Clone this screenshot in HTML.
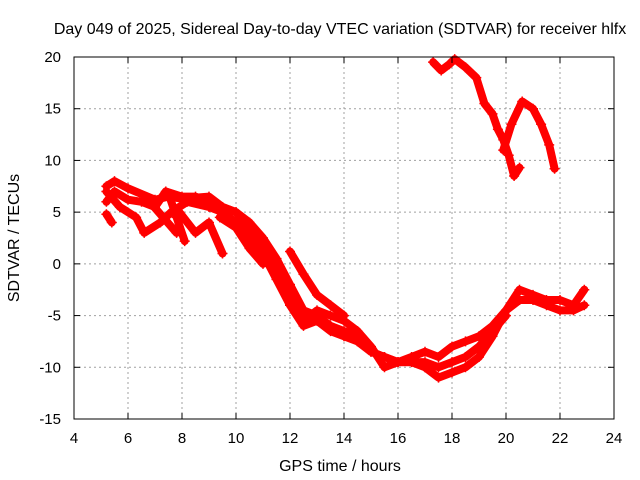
<!DOCTYPE html>
<html><head><meta charset="utf-8"><style>
body{margin:0;background:#fff}
svg{display:block;font-family:"Liberation Sans",sans-serif;font-size:14px}
</style></head><body>
<svg id="c" width="640" height="480">
<text x="340" y="34" text-anchor="middle" font-size="16">Day 049 of 2025, Sidereal Day-to-day VTEC variation (SDTVAR) for receiver hlfx</text>
<text x="340" y="471" text-anchor="middle" font-size="16">GPS time / hours</text>
<text transform="translate(19,238) rotate(-90)" text-anchor="middle" font-size="16">SDTVAR / TECUs</text>
<g id="grid"></g><g id="marks"></g><g id="axes"></g>
</svg>
<script>
const xTicks=[4,6,8,10,12,14,16,18,20,22,24];
const yTicks=[-15,-10,-5,0,5,10,15,20];
const track1=[[5.2,7.5],[5.5,8.0],[6,7.3],[7,6.2],[7.5,6.5],[8,6.3],[9,6.5],[9.5,5.5],[10,5],[10.5,4],[11,2.5],[11.5,0.5],[12,-2],[12.5,-4.5],[13,-5],[13.5,-6],[14,-6.5],[14.5,-7],[15,-8.5],[15.5,-9],[16,-9.5],[16.5,-9],[17,-8.5],[17.5,-9],[18,-8],[18.5,-7.5],[19,-7],[19.5,-6],[20,-4.5],[20.5,-2.5],[21,-3],[21.5,-3.5],[22,-3.5],[22.5,-4],[22.9,-2.5]];
const track2=[[5.2,6],[5.5,7],[6,6.2],[6.5,6],[7,5.5],[7.4,7],[8,6.5],[8.5,6.5],[9,6],[10,5],[10.5,3.5],[11,2],[11.5,0],[12,-3],[12.5,-5.5],[13,-4.5],[13.5,-5],[14,-5.5],[14.5,-6.5],[15,-8],[15.5,-10],[16,-9.5],[16.5,-9.5],[17,-10],[17.5,-11],[18,-10.5],[18.5,-10],[19,-9],[19.5,-7],[20,-4.5],[20.5,-3.5],[21,-3.5],[21.5,-4],[22,-4.5],[22.5,-4.5],[22.9,-4]];
const track3=[[5.2,7],[5.7,5.5],[6.3,4.5],[6.6,3],[7.2,4],[7.6,5],[8.2,6],[9,5.5],[9.5,5],[10,4],[10.5,2.5],[11,1],[11.5,-1.5],[12,-4],[12.5,-6],[13,-5.5],[13.5,-6.5],[14,-7],[14.5,-7.5],[15,-8.5],[15.5,-9],[16,-9.5],[17,-9.5],[17.5,-10],[18,-9.5],[18.5,-9],[19,-8],[19.5,-6.5],[20,-5]];
const track4=[[5.2,4.8],[5.4,4]];
const track5=[[7.5,6.8],[7.8,4.5],[8.1,2.2]];
const track6=[[6.8,6],[7.8,3]];
const track7=[[7.9,5],[8.5,3],[9,4],[9.5,1]];
const track8=[[9.4,4.5],[10,3.5],[10.5,1.5],[11,0]];
const track9=[[12,1.2],[12.5,-1],[13,-3],[13.5,-4],[14,-5]];
const track10=[[17.3,19.5],[17.6,18.7],[17.9,19.3],[18.1,19.8],[18.5,19.0],[18.9,18],[19.2,15.5],[19.5,14.5],[19.7,13],[19.9,12],[20.1,10.5],[20.3,8.5],[20.5,9.3]];
const track11=[[19.9,11],[20.2,13.5],[20.6,15.7],[21,15],[21.3,13.5],[21.6,11.5],[21.8,9.2]];
const tracks=[track1,track2,track3,track4,track5,track6,track7,track8,track9,track10,track11];
const L=74,R=614,T=57,B=419;
const sx=h=>L+(h-4)/20*(R-L), sy=v=>B-(v+15)/35*(B-T);
const NS="http://www.w3.org/2000/svg";
function mk(tag,attrs,parent){const e=document.createElementNS(NS,tag);for(const k in attrs)e.setAttribute(k,attrs[k]);parent.appendChild(e);return e;}
const grid=document.getElementById('grid'),axes=document.getElementById('axes'),marks=document.getElementById('marks');
xTicks.forEach(t=>{const x=sx(t);
 if(t>4&&t<24){const g=mk('line',{x1:x,x2:x,y1:T,y2:B,stroke:'#a0a0a0','stroke-dasharray':'2,3'},grid);
 
 }
 mk('line',{x1:x,x2:x,y1:B,y2:B-6,stroke:'#000'},axes);mk('line',{x1:x,x2:x,y1:T,y2:T+6,stroke:'#000'},axes);
 const tx=mk('text',{x:x,y:B+24,'text-anchor':'middle','font-size':15},axes);tx.textContent=t;
 
 });
yTicks.forEach(t=>{const y=sy(t);
 if(t>-15&&t<20){const g=mk('line',{x1:L,x2:R,y1:y,y2:y,stroke:'#a0a0a0','stroke-dasharray':'2,3'},grid);
 
 }
 mk('line',{x1:L,x2:L+6,y1:y,y2:y,stroke:'#000'},axes);mk('line',{x1:R,x2:R-6,y1:y,y2:y,stroke:'#000'},axes);
 const tx=mk('text',{x:L-13,y:y+5,'text-anchor':'end','font-size':15},axes);tx.textContent=t;
 
 });
const fr=mk('rect',{x:L,y:T,width:R-L,height:B-T,fill:'none',stroke:'#000'},axes);


tracks.forEach((tr,i)=>{
 const p=mk('polyline',{points:tr.map(d=>sx(d[0])+','+sy(d[1])).join(' '),fill:'none',stroke:'#ff0000','stroke-width':8,'stroke-linejoin':'round','stroke-linecap':'round'},marks);
 
 
 tr.forEach(d=>{const x=sx(d[0]),y=sy(d[1]);
  const m=mk('path',{d:`M${x-5},${y}h10M${x},${y-5}v10`,stroke:'#ff0000','stroke-width':1.5},marks);
  
  });
});
</script>
</body></html>
